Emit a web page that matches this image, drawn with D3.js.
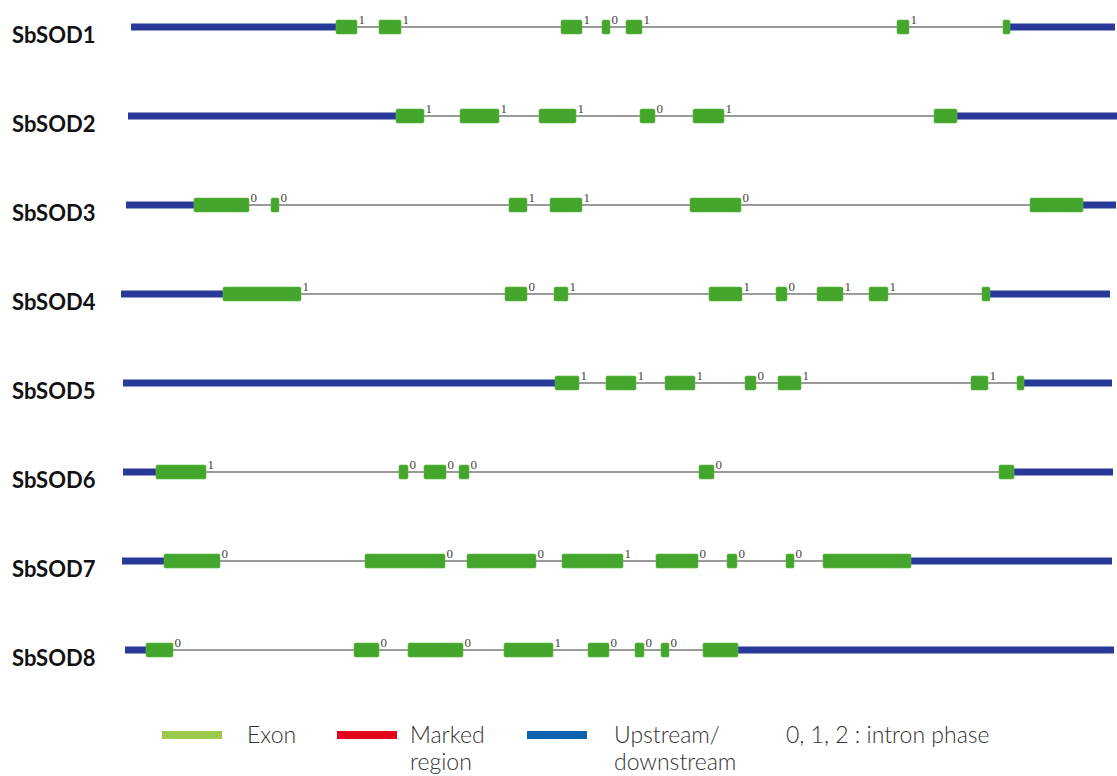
<!DOCTYPE html>
<html>
<head>
<meta charset="utf-8">
<script src="https://cdn.jsdelivr.net/npm/d3@7"></script>
<style>
  body { margin: 0; background: #fff; }
  svg { display: block; }
</style>
</head>
<body>
<div id="chart"></div>
<script>
const width = 1117
const height = 776

// gene names, top to bottom
const genes = ["SbSOD1", "SbSOD2", "SbSOD3", "SbSOD4", "SbSOD5", "SbSOD6", "SbSOD7", "SbSOD8"]
// extent of each drawn region (relative position units)
const geneStart = [11, 8, 6, 1, 3, 3, 2, 5]
const geneEnd = [995, 997, 996, 990, 992, 993, 992, 994]
// exons as [start, end]
const exons = [
    [[216,237],[259,281],[441,462],[482,490],[506,522],[777,789],[883,890]],
    [[276,304],[340,379],[419,456],[520,535],[573,604],[814,837]],
    [[74,129],[151,159],[389,407],[430,462],[570,621],[910,963]],
    [[103,181],[385,407],[434,448],[589,622],[656,667],[697,723],[749,768],[862,870]],
    [[435,459],[486,516],[545,575],[625,636],[658,681],[851,868],[897,904]],
    [[36,86],[279,288],[304,326],[339,349],[579,594],[879,894]],
    [[44,100],[245,325],[347,416],[442,503],[536,578],[607,617],[666,674],[703,791]],
    [[26,53],[234,259],[288,343],[384,433],[468,489],[515,524],[541,549],[583,618]]
]
// intron phases, one per intron
const phases = [
    [1,1,1,0,1,1],
    [1,1,1,0,1],
    [0,0,1,1,0],
    [1,0,1,1,0,1,1],
    [1,1,1,0,1,1],
    [1,0,0,0,0],
    [0,0,0,1,0,0,0],
    [0,0,0,1,0,0,0]
]

const legendLabels = [["Exon"], ["Marked", "region"], ["Upstream/", "downstream"]]
const legendColors = ["#9cc94b", "#e3051b", "#0d62ae"]
const phaseNote = "0, 1, 2 : intron phase"

const x = d3.scaleLinear().domain([0, 1000]).range([120, 1120])
const y = d3.scalePoint().domain(genes).range([27, 650])

const svg = d3.select("#chart").append("svg")
    .attr("width", width).attr("height", height)

const rows = genes.map((g, i) => ({
    name: g, start: geneStart[i], end: geneEnd[i], exons: exons[i], phases: phases[i]
}))

const row = svg.selectAll("g.row").data(rows).join("g")
    .attr("class", "row")
    .attr("transform", d => `translate(0,${y(d.name)})`)

row.append("text")
    .attr("x", 12).attr("y", 16)
    .attr("font-family", "Lato, 'Open Sans', sans-serif")
    .attr("font-weight", 700)
    .attr("font-size", 22)
    .attr("fill", "#111")
    .text(d => d.name)

// upstream / downstream
row.append("rect")
    .attr("x", d => x(d.start)).attr("y", -3.5)
    .attr("width", d => x(d.exons[0][0]) - x(d.start)).attr("height", 7)
    .attr("fill", "#28399a")
row.append("rect")
    .attr("x", d => x(d.exons[d.exons.length - 1][1])).attr("y", -3.5)
    .attr("width", d => x(d.end) - x(d.exons[d.exons.length - 1][1])).attr("height", 7)
    .attr("fill", "#28399a")

// introns
row.append("line")
    .attr("x1", d => x(d.exons[0][0]))
    .attr("x2", d => x(d.exons[d.exons.length - 1][1]))
    .attr("stroke", "#9a9a9a").attr("stroke-width", 2)

// exons
row.selectAll("rect.exon").data(d => d.exons).join("rect")
    .attr("class", "exon")
    .attr("x", d => x(d[0])).attr("y", -7)
    .attr("width", d => x(d[1]) - x(d[0])).attr("height", 14)
    .attr("rx", 1.5)
    .attr("fill", "#45a62d")
    .attr("stroke", "#5cb845").attr("stroke-width", 0.6)

// phase labels after each exon except the last
row.selectAll("text.phase")
    .data(d => d.phases.map((p, k) => ({ p, at: d.exons[k][1] })))
    .join("text")
    .attr("class", "phase")
    .attr("x", d => x(d.at) + 1.5).attr("y", -3)
    .attr("font-family", "'Liberation Serif', serif")
    .attr("font-size", 13)
    .attr("fill", "#444")
    .text(d => d.p)

// legend
const lx = d3.scaleOrdinal().domain(d3.range(legendLabels.length)).range([162, 337, 527])
const textGap = [85, 73, 87]
const leg = svg.append("g").attr("transform", "translate(0,735)")
const item = leg.selectAll("g").data(legendLabels).join("g")
    .attr("transform", (d, i) => `translate(${lx(i)},0)`)
item.append("rect")
    .attr("x", 0).attr("y", -4).attr("width", 60).attr("height", 8)
    .attr("fill", (d, i) => legendColors[i])
item.append("text")
    .attr("x", (d, i) => textGap[i])
    .attr("y", 8)
    .attr("font-family", "Lato, 'Open Sans', sans-serif")
    .attr("font-weight", 300)
    .attr("font-size", 23)
    .attr("fill", "#333")
    .selectAll("tspan").data(d => d).join("tspan")
    .attr("x", function () { return d3.select(this.parentNode).attr("x") })
    .attr("dy", (d, i) => i === 0 ? 0 : 27)
    .text(d => d)
leg.append("text")
    .attr("x", 786).attr("y", 8)
    .attr("font-family", "Lato, 'Open Sans', sans-serif")
    .attr("font-weight", 300)
    .attr("font-size", 23)
    .attr("fill", "#333")
    .text(phaseNote)
</script>
</body>
</html>
